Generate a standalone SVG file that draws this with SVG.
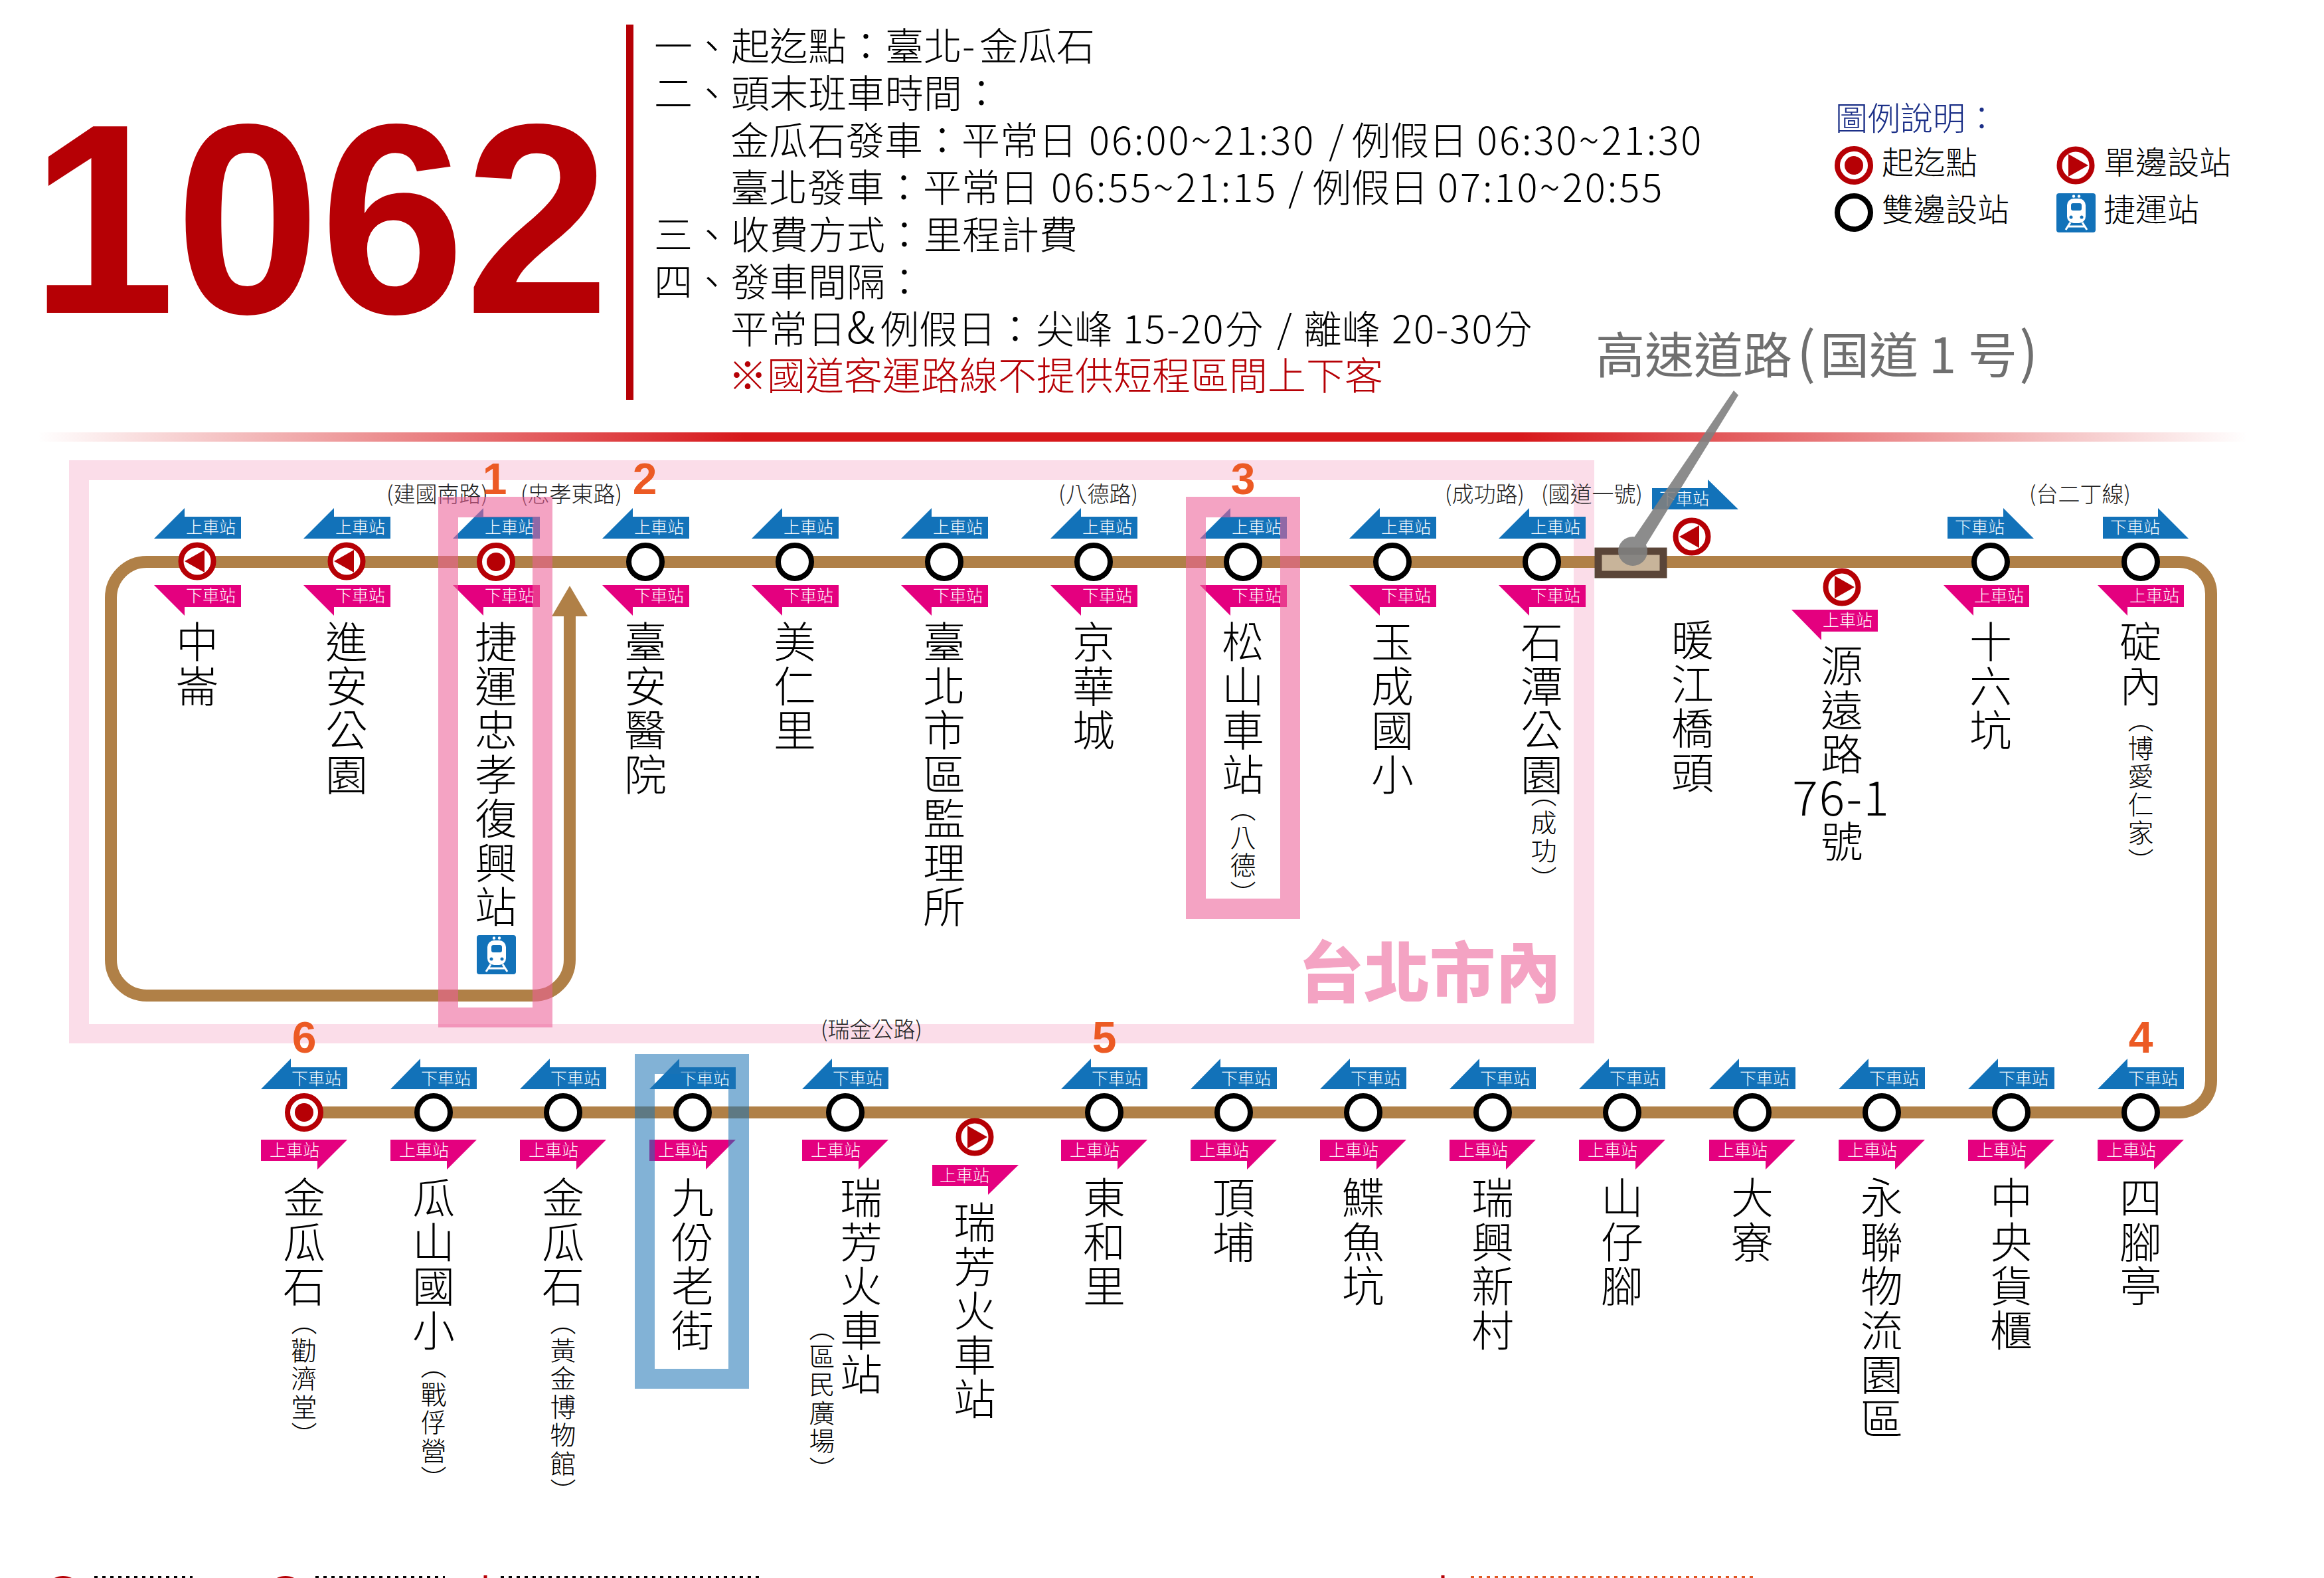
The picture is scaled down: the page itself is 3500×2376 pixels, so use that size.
<svg xmlns="http://www.w3.org/2000/svg" width="3500" height="2376" viewBox="0 0 3500 2376">
<style>
text{font-family:"Noto Sans CJK TC","Noto Sans CJK SC",sans-serif;font-weight:300;fill:#000}
.h{font-size:58px}
.red{fill:#b60005}
.leg{font-size:48px}
.road{font-size:33px;fill:#222}
.ft{font-size:25px;fill:#fff}
.v{writing-mode:vertical-rl;font-size:64px;letter-spacing:2.500px}
.vs{writing-mode:vertical-rl;font-size:39px;letter-spacing:3.500px}
.num{font-family:"Liberation Sans",Arial,sans-serif;font-weight:700;font-size:66px;fill:#ec5a24;text-anchor:middle}
.blue{fill:#1272b9}
.mag{fill:#e4007f}
.ls{letter-spacing:3px}
.ls2{letter-spacing:2px}
</style>
<defs>
<linearGradient id="barGrad" x1="0" x2="1" y1="0" y2="0">
<stop offset="0" stop-color="#d7181b" stop-opacity="0"/>
<stop offset="0.32" stop-color="#d7181b"/>
<stop offset="0.67" stop-color="#d7181b"/>
<stop offset="1" stop-color="#d7181b" stop-opacity="0"/>
</linearGradient>
<marker id="arrow" markerUnits="userSpaceOnUse" markerWidth="46" markerHeight="54" refX="1" refY="27" orient="auto" viewBox="0 0 46 54"><polygon points="0,0 46,27 0,54" fill="#b08047"/></marker>
<polygon id="tb" class="blue" points="-65,811 -19,765 -19,778 66,778 66,811"/>
<polygon id="tm" class="mag" points="-65,881 66,881 66,914 -19,914 -19,927"/>
<polygon id="bb" class="blue" points="-65,1640 -20,1594 -20,1607 65,1607 65,1640"/>
<polygon id="bm" class="mag" points="-65,1716 65,1716 20,1761 20,1748 -65,1748"/>
<g id="dbl"><circle r="25" fill="#fff" stroke="#000" stroke-width="8"/></g>
<g id="org"><circle r="25" fill="#fff" stroke="#b60005" stroke-width="8"/><circle r="14" fill="#b60005"/></g>
<g id="owL"><circle r="24.500" fill="#fff" stroke="#b60005" stroke-width="8"/><polygon points="-19,0 11,-17 11,17" fill="#b60005"/></g>
<g id="owR"><circle r="24.500" fill="#fff" stroke="#b60005" stroke-width="8"/><polygon points="19,0 -11,-17 -11,17" fill="#b60005"/></g>
<g id="train"><rect width="59" height="59" rx="4" fill="#1272b9"/><rect x="16" y="8" width="28" height="37" rx="10" fill="#fff"/><circle cx="26" cy="4.500" r="2.200" fill="#fff"/><circle cx="34" cy="4.500" r="2.200" fill="#fff"/><rect x="22" y="15" width="16" height="11" rx="3" fill="#1272b9"/><circle cx="22" cy="36" r="2.500" fill="#1272b9"/><circle cx="38" cy="36" r="2.500" fill="#1272b9"/><path d="M21 44 14 55M39 44 46 55M18 50H42" stroke="#fff" stroke-width="3" fill="none"/></g>
</defs>

<rect width="3500" height="2376" fill="#fff"/>

<g id="title">
<text x="46" y="471" textLength="872" lengthAdjust="spacingAndGlyphs" style="font-family:'Liberation Sans',Arial,sans-serif;font-weight:700;font-size:408px;fill:#b60005">1062</text>
<rect x="943" y="37" width="11" height="565" fill="#b60005"/>
</g>

<g id="info">
<text class="h" x="985" y="91">一、起迄點：臺北-<tspan x="1475">金瓜石</tspan></text>
<text class="h" x="985" y="162">二、頭末班車時間：</text>
<text class="h" x="1100" y="233">金瓜石發車：平常日<tspan class="ls" x="1640">06:00~21:30</tspan><tspan x="2001">/</tspan><tspan x="2036">例假日</tspan><tspan class="ls" x="2224">06:30~21:30</tspan></text>
<text class="h" x="1100" y="304">臺北發車：平常日<tspan class="ls" x="1583">06:55~21:15</tspan><tspan x="1940">/</tspan><tspan x="1977">例假日</tspan><tspan class="ls" x="2165">07:10~20:55</tspan></text>
<text class="h" x="985" y="375">三、收費方式：里程計費</text>
<text class="h" x="985" y="446">四、發車間隔：</text>
<text class="h" x="1100" y="517">平常日<tspan x="1275" style="font-size:66px">&amp;</tspan><tspan x="1326">例假日：</tspan><tspan x="1560">尖峰</tspan><tspan class="ls2" x="1691">15-20分</tspan><tspan x="1923">/</tspan><tspan x="1963">離峰</tspan><tspan class="ls2" x="2096">20-30分</tspan></text>
<text class="h red" x="1097" y="587">※國道客運路線不提供短程區間上下客</text>
</g>

<g id="legend">
<text x="2764" y="196" style="font-size:49px;fill:#1b2f87">圖例說明：</text>
<use href="#org" x="2792" y="249"/><text class="leg" x="2834" y="262">起迄點</text>
<use href="#owR" x="3126" y="249"/><text class="leg" x="3168" y="262">單邊設站</text>
<use href="#dbl" x="2792" y="320"/><text class="leg" x="2834" y="333">雙邊設站</text>
<use href="#train" x="3097" y="291"/><text class="leg" x="3168" y="333">捷運站</text>
</g>

<text id="highway-label" x="2403" y="562" style="font-size:74px;fill:#6f6f6f;font-weight:400">高速道路<tspan x="2706" style="font-size:84px">(</tspan><tspan x="2741">国道</tspan><tspan x="2905">1</tspan><tspan x="2964">号</tspan><tspan x="3041" style="font-size:84px">)</tspan></text>

<rect id="divider" x="56" y="651" width="3329" height="14" fill="url(#barGrad)"/>

<path id="zone-taipei" fill-rule="evenodd" fill="#fbdde9" d="M104 693H2401V1571H104ZM134 723V1542H2370V723Z"/>
<text id="zone-label" x="1955" y="1501" style="font-size:99px;font-weight:900;fill:#f4a3c3">台北市內</text>

<g id="roads">
<text class="road" x="582" y="756">(建國南路)</text>
<text class="road" x="784" y="756">(忠孝東路)</text>
<text class="road" x="1594" y="756">(八德路)</text>
<text class="road" x="2176" y="756">(成功路)</text>
<text class="road" x="2321" y="756">(國道一號)</text>
<text class="road" x="3056" y="756">(台二丁線)</text>
<text class="road" x="1236" y="1562">(瑞金公路)</text>
</g>

<g id="connectors" fill="none" stroke="#b08047" stroke-width="18">
<path marker-end="url(#arrow)" d="M458 1675H3282A48 48 0 0 0 3330 1627V894A48 48 0 0 0 3282 846H221A54 54 0 0 0 167 900V1445A54 54 0 0 0 221 1499H804A54 54 0 0 0 858 1445V927"/>
</g>

<g id="highway-box"><rect x="2407" y="830" width="98" height="35" fill="#c8b49a" stroke="#5a4538" stroke-width="11"/></g>

<g id="s01"><use href="#tb" x="297"/><use href="#tm" x="297"/><use href="#owL" x="297" y="845"/><text class="ft" x="280" y="803">上車站</text><text class="ft" x="280" y="906">下車站</text><text class="v" x="297" y="934">中崙</text></g>
<g id="s02"><use href="#tb" x="522"/><use href="#tm" x="522"/><use href="#owL" x="522" y="845"/><text class="ft" x="505" y="803">上車站</text><text class="ft" x="505" y="906">下車站</text><text class="v" x="522" y="934">進安公園</text></g>
<g id="s03"><use href="#tb" x="747"/><use href="#tm" x="747"/><use href="#org" x="747" y="846"/><text class="ft" x="730" y="803">上車站</text><text class="ft" x="730" y="906">下車站</text><text class="v" x="747" y="934">捷運忠孝復興站</text><use href="#train" x="718" y="1408"/></g>
<g id="s04"><use href="#tb" x="972"/><use href="#tm" x="972"/><use href="#dbl" x="972" y="846"/><text class="ft" x="955" y="803">上車站</text><text class="ft" x="955" y="906">下車站</text><text class="v" x="972" y="934">臺安醫院</text></g>
<g id="s05"><use href="#tb" x="1197"/><use href="#tm" x="1197"/><use href="#dbl" x="1197" y="846"/><text class="ft" x="1180" y="803">上車站</text><text class="ft" x="1180" y="906">下車站</text><text class="v" x="1197" y="934">美仁里</text></g>
<g id="s06"><use href="#tb" x="1422"/><use href="#tm" x="1422"/><use href="#dbl" x="1422" y="846"/><text class="ft" x="1405" y="803">上車站</text><text class="ft" x="1405" y="906">下車站</text><text class="v" x="1422" y="934">臺北市區監理所</text></g>
<g id="s07"><use href="#tb" x="1647"/><use href="#tm" x="1647"/><use href="#dbl" x="1647" y="846"/><text class="ft" x="1630" y="803">上車站</text><text class="ft" x="1630" y="906">下車站</text><text class="v" x="1647" y="934">京華城</text></g>
<g id="s08"><use href="#tb" x="1872"/><use href="#tm" x="1872"/><use href="#dbl" x="1872" y="846"/><text class="ft" x="1855" y="803">上車站</text><text class="ft" x="1855" y="906">下車站</text><text class="v" x="1872" y="934">松山車站</text><text class="vs" x="1872" y="1198">（八德）</text></g>
<g id="s09"><use href="#tb" x="2097"/><use href="#tm" x="2097"/><use href="#dbl" x="2097" y="846"/><text class="ft" x="2080" y="803">上車站</text><text class="ft" x="2080" y="906">下車站</text><text class="v" x="2097" y="934">玉成國小</text></g>
<g id="s10"><use href="#tb" x="2322"/><use href="#tm" x="2322"/><use href="#dbl" x="2322" y="846"/><text class="ft" x="2305" y="803">上車站</text><text class="ft" x="2305" y="906">下車站</text><text class="v" x="2322" y="934">石潭公園</text><text class="vs" x="2325" y="1176">（成功）</text></g>
<g id="s11"><polygon class="blue" points="2488,735 2572,735 2572,722 2618,767 2488,767"/><use href="#owL" x="2548" y="808"/><text class="ft" x="2499" y="760">下車站</text><text class="v" x="2549" y="931">暖江橋頭</text></g>
<g id="s12"><use href="#owR" x="2774" y="884"/><polygon class="mag" points="2698,918 2828,918 2828,951 2743,951 2743,964"/><text class="ft" x="2745" y="943">上車站</text><text class="v" x="2774" y="970">源遠路</text><text x="2773" y="1228" text-anchor="middle" style="font-size:72px;letter-spacing:2px">76-1</text><text class="v" x="2774" y="1235">號</text></g>
<g id="s13"><polygon class="blue" points="2933,778 3017,778 3017,765 3063,811 2933,811"/><polygon class="mag" points="2927,881 3056,881 3056,914 2972,914 2972,927"/><use href="#dbl" x="2998" y="846"/><text class="ft" x="2944" y="803">下車站</text><text class="ft" x="2973" y="906">上車站</text><text class="v" x="2998" y="934">十六坑</text></g>
<g id="s14"><polygon class="blue" points="3167,778 3250,778 3250,765 3296,811 3167,811"/><polygon class="mag" points="3159,881 3289,881 3289,914 3204,914 3204,927"/><use href="#dbl" x="3224" y="846"/><text class="ft" x="3178" y="803">下車站</text><text class="ft" x="3207" y="906">上車站</text><text class="v" x="3224" y="934">碇內</text><text class="vs" x="3224" y="1064">（博愛仁家）</text></g>

<g id="s15"><use href="#bb" x="3224"/><use href="#bm" x="3224"/><use href="#dbl" x="3224" y="1675"/><text class="ft" x="3205" y="1633">下車站</text><text class="ft" x="3172" y="1741">上車站</text><text class="v" x="3224" y="1771">四腳亭</text></g>
<g id="s16"><use href="#bb" x="3029"/><use href="#bm" x="3029"/><use href="#dbl" x="3029" y="1675"/><text class="ft" x="3010" y="1633">下車站</text><text class="ft" x="2977" y="1741">上車站</text><text class="v" x="3029" y="1771">中央貨櫃</text></g>
<g id="s17"><use href="#bb" x="2834"/><use href="#bm" x="2834"/><use href="#dbl" x="2834" y="1675"/><text class="ft" x="2815" y="1633">下車站</text><text class="ft" x="2782" y="1741">上車站</text><text class="v" x="2834" y="1771">永聯物流園區</text></g>
<g id="s18"><use href="#bb" x="2639"/><use href="#bm" x="2639"/><use href="#dbl" x="2639" y="1675"/><text class="ft" x="2620" y="1633">下車站</text><text class="ft" x="2587" y="1741">上車站</text><text class="v" x="2639" y="1771">大寮</text></g>
<g id="s19"><use href="#bb" x="2443"/><use href="#bm" x="2443"/><use href="#dbl" x="2443" y="1675"/><text class="ft" x="2424" y="1633">下車站</text><text class="ft" x="2391" y="1741">上車站</text><text class="v" x="2443" y="1771">山仔腳</text></g>
<g id="s20"><use href="#bb" x="2248"/><use href="#bm" x="2248"/><use href="#dbl" x="2248" y="1675"/><text class="ft" x="2229" y="1633">下車站</text><text class="ft" x="2196" y="1741">上車站</text><text class="v" x="2248" y="1771">瑞興新村</text></g>
<g id="s21"><use href="#bb" x="2053"/><use href="#bm" x="2053"/><use href="#dbl" x="2053" y="1675"/><text class="ft" x="2034" y="1633">下車站</text><text class="ft" x="2001" y="1741">上車站</text><text class="v" x="2053" y="1771">鰈魚坑</text></g>
<g id="s22"><use href="#bb" x="1858"/><use href="#bm" x="1858"/><use href="#dbl" x="1858" y="1675"/><text class="ft" x="1839" y="1633">下車站</text><text class="ft" x="1806" y="1741">上車站</text><text class="v" x="1858" y="1771">頂埔</text></g>
<g id="s23"><use href="#bb" x="1663"/><use href="#bm" x="1663"/><use href="#dbl" x="1663" y="1675"/><text class="ft" x="1644" y="1633">下車站</text><text class="ft" x="1611" y="1741">上車站</text><text class="v" x="1663" y="1771">東和里</text></g>
<g id="s24"><use href="#owR" x="1468" y="1712"/><polygon class="mag" points="1404,1754 1534,1754 1488,1799 1488,1786 1404,1786"/><text class="ft" x="1415" y="1779">上車站</text><text class="v" x="1468" y="1808">瑞芳火車站</text></g>
<g id="s25"><use href="#bb" x="1273"/><use href="#bm" x="1273"/><use href="#dbl" x="1273" y="1675"/><text class="ft" x="1254" y="1633">下車站</text><text class="ft" x="1221" y="1741">上車站</text><text class="v" x="1297" y="1771">瑞芳火車站</text><text class="vs" x="1238" y="1980">（區民廣場）</text></g>
<g id="s26"><use href="#bb" x="1043"/><use href="#bm" x="1043"/><use href="#dbl" x="1043" y="1675"/><text class="ft" x="1024" y="1633">下車站</text><text class="ft" x="991" y="1741">上車站</text><text class="v" x="1043" y="1771">九份老街</text></g>
<g id="s27"><use href="#bb" x="848"/><use href="#bm" x="848"/><use href="#dbl" x="848" y="1675"/><text class="ft" x="829" y="1633">下車站</text><text class="ft" x="796" y="1741">上車站</text><text class="v" x="848" y="1771">金瓜石</text><text class="vs" x="848" y="1971">（黃金博物館）</text></g>
<g id="s28"><use href="#bb" x="653"/><use href="#bm" x="653"/><use href="#dbl" x="653" y="1675"/><text class="ft" x="634" y="1633">下車站</text><text class="ft" x="601" y="1741">上車站</text><text class="v" x="653" y="1771">瓜山國小</text><text class="vs" x="653" y="2037">（戰俘營）</text></g>
<g id="s29"><use href="#bb" x="458"/><use href="#bm" x="458"/><use href="#org" x="458" y="1675"/><text class="ft" x="439" y="1633">下車站</text><text class="ft" x="406" y="1741">上車站</text><text class="v" x="458" y="1771">金瓜石</text><text class="vs" x="458" y="1971">（勸濟堂）</text></g>

<g id="highlights">
<path fill-rule="evenodd" fill="#ec6097" opacity="0.58" d="M660 748H832V1547H660ZM690 779V1517H802V779Z"/>
<path fill-rule="evenodd" fill="#ec6097" opacity="0.58" d="M1786 748H1958V1384H1786ZM1816 779V1353H1928V779Z"/>
<path fill-rule="evenodd" fill="#1b73b4" opacity="0.55" d="M956 1587H1128V2091H956ZM986 1617V2061H1097V1617Z"/>
</g>

<g id="highway-pointer" fill="#808080" opacity="0.9">
<polygon points="2611,588 2618,595 2476,825 2457,815"/>
<circle cx="2459" cy="830" r="22"/>
</g>

<g id="stop-numbers">
<text class="num" x="745" y="744">1</text>
<text class="num" x="971" y="744">2</text>
<text class="num" x="1872" y="744">3</text>
<text class="num" x="3224" y="1585">4</text>
<text class="num" x="1663" y="1585">5</text>
<text class="num" x="458" y="1585">6</text>
</g>

<g id="cut-off-footer" fill="none">
<ellipse cx="95" cy="2392" rx="20" ry="15" stroke="#b60005" stroke-width="8"/>
<ellipse cx="430" cy="2392" rx="20" ry="15" stroke="#b60005" stroke-width="8"/>
<path d="M142 2374.500H290M475 2374.500H670M754 2374.500H1150" stroke="#000" stroke-width="3" stroke-dasharray="5 7"/>
<path d="M731 2376V2372M2173 2376V2372" stroke="#b60005" stroke-width="5"/>
<path d="M2215 2374.500H2640" stroke="#e0561f" stroke-width="3" stroke-dasharray="5 7"/>
</g>
</svg>
